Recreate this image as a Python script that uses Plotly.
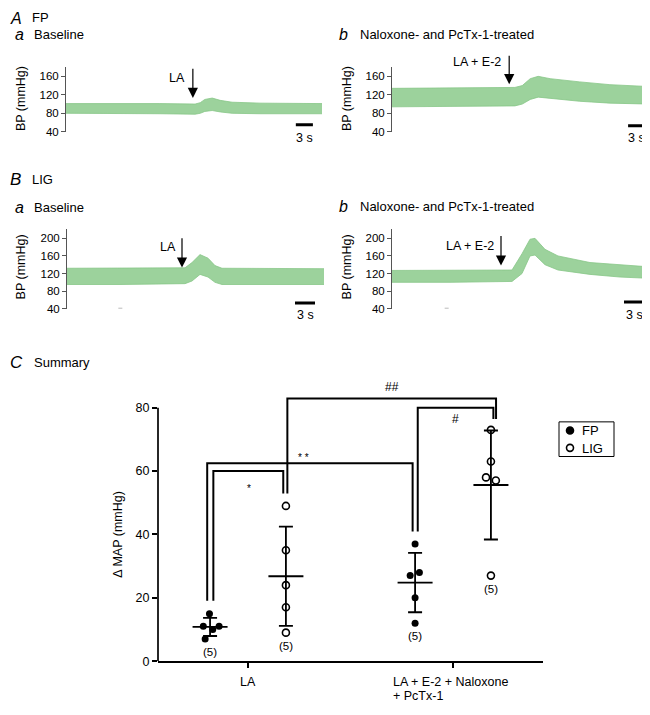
import numpy as np
import plotly.graph_objects as go

# The page body has an 8px margin, so the figure is sized to fill the rest of the window
OFFSET = 8
W, H = 650 - OFFSET, 715 - OFFSET
FONT = "Liberation Sans, Arial, Helvetica, sans-serif"
GREEN_FILL = "rgb(156,210,156)"
GREEN_LINE = "rgb(136,198,136)"

# ---------------- Panels A/B : BP traces (time in s, envelope in mmHg) ----------------
fp_baseline_t = [0, 11.2, 16.5, 22.7, 23.6, 24.4, 25.7, 27.1, 29.2, 34.1, 45.0]
fp_baseline_lo = [80, 80, 79, 78, 80, 84, 86, 83, 80, 79, 79]
fp_baseline_hi = [101, 102, 101, 100, 103, 110, 113, 108, 104, 102, 101]

fp_treated_t = [0, 10.2, 21.6, 22.9, 24.3, 25.7, 27.8, 33.0, 38.3, 45.0]
fp_treated_lo = [94, 95, 96, 100, 110, 115, 112, 106, 102, 100]
fp_treated_hi = [134, 135, 136, 140, 155, 160, 155, 148, 142, 138]

lig_baseline_t = [0, 7.95, 17.7, 18.75, 19.95, 21.15, 22.2, 23.25, 38.55]
lig_baseline_lo = [95, 95, 97, 103, 118, 112, 100, 95, 95]
lig_baseline_hi = [132, 133, 133, 145, 163, 155, 138, 132, 131]

lig_treated_t = [0, 8.7, 18.0, 19.5, 20.7, 21.45, 22.95, 24.9, 29.7, 34.2, 38.7]
lig_treated_lo = [100, 100, 102, 120, 160, 162, 140, 128, 118, 112, 109]
lig_treated_hi = [127, 127, 128, 165, 198, 200, 175, 160, 145, 140, 135]

bp_ticks_A = [40, 80, 120, 160]
bp_ticks_B = [40, 80, 120, 160, 200]

# ---------------- Panel C : summary ----------------
categories = ["LA", "LA + E-2 + Naloxone", "+ PcTx-1"]
fp_la = [15, 11, 10, 11, 7]
lig_la = [49, 35, 24, 17, 9]
fp_la_e2 = [37, 27, 28, 20, 12]
lig_la_e2 = [73, 63, 58, 57, 27]
map_ticks = [0, 20, 40, 60, 80]
n_labels = ["(5)", "(5)", "(5)", "(5)"]
sig_labels = ["*", "* *", "#", "##"]
series_names = ["FP", "LIG"]


def PX(x):
    return (x - OFFSET) / W


def PY(y):
    return 1 - (y - OFFSET) / H


fig = go.Figure()
annotations = []
shapes = []


def data_to_paper(xdom, ydom, xr, yr, x, y):
    px_ = xdom[0] + (x - xr[0]) / (xr[1] - xr[0]) * (xdom[1] - xdom[0])
    py_ = ydom[0] + (y - yr[0]) / (yr[1] - yr[0]) * (ydom[1] - ydom[0])
    return px_, py_


panels = [
    dict(t=fp_baseline_t, lo=fp_baseline_lo, hi=fp_baseline_hi, xpx=(66, 322), ypx=(133, 67.7),
         xr=[0, 45], yr=[40, 180], ticks=bp_ticks_A,
         arrow=(22.3, 113, 179), label="LA", label_pos=(21.3, 156),
         bar=(40.4, 43.4, 55), bar_text=(41.9, 27), dash=None),
    dict(t=fp_treated_t, lo=fp_treated_lo, hi=fp_treated_hi, xpx=(392, 648), ypx=(133, 67.7),
         xr=[0, 45], yr=[40, 180], ticks=bp_ticks_A,
         arrow=(20.6, 143, 207), label="LA + E-2", label_pos=(19.5, 190),
         bar=(41.5, 44.5, 53), bar_text=(43.0, 27), dash=None),
    dict(t=lig_baseline_t, lo=lig_baseline_lo, hi=lig_baseline_hi, xpx=(67, 325), ypx=(311.7, 230.9),
         xr=[0, 38.7], yr=[40, 222], ticks=bp_ticks_B,
         arrow=(17.25, 133.5, 203), label="LA", label_pos=(16.65, 181),
         bar=(34.2, 37.2, 53), bar_text=(35.7, 26), dash=(7.7, 8.3, 41)),
    dict(t=lig_treated_t, lo=lig_treated_lo, hi=lig_treated_hi, xpx=(392, 650), ypx=(311.7, 230.9),
         xr=[0, 38.7], yr=[40, 222], ticks=bp_ticks_B,
         arrow=(16.35, 138, 208), label="LA + E-2", label_pos=(15.6, 183),
         bar=(34.8, 38.1, 55), bar_text=(36.4, 26), dash=(7.9, 8.5, 41)),
]

layout_axes = {}
for i, p in enumerate(panels, start=1):
    xa = "x" if i == 1 else f"x{i}"
    ya = "y" if i == 1 else f"y{i}"
    xname = "xaxis" if i == 1 else f"xaxis{i}"
    yname = "yaxis" if i == 1 else f"yaxis{i}"
    xdom = [PX(p["xpx"][0]), min(1.0, PX(p["xpx"][1]))]
    ydom = [PY(p["ypx"][0]), PY(p["ypx"][1])]
    layout_axes[xname] = dict(domain=xdom, range=p["xr"], visible=False, anchor=ya)
    layout_axes[yname] = dict(domain=ydom, range=p["yr"],
                              anchor=xa, showline=True, linecolor="#555", linewidth=1,
                              ticks="outside", ticklen=4, tickwidth=1, tickcolor="#555",
                              tickvals=p["ticks"], showgrid=False, zeroline=False,
                              tickfont=dict(size=11.5, color="black"))
    fig.add_trace(go.Scatter(x=p["t"], y=p["lo"], mode="lines", xaxis=xa, yaxis=ya,
                             line=dict(color=GREEN_LINE, width=0.8), showlegend=False,
                             hoverinfo="skip"))
    fig.add_trace(go.Scatter(x=p["t"], y=p["hi"], mode="lines", xaxis=xa, yaxis=ya,
                             fill="tonexty", fillcolor=GREEN_FILL,
                             line=dict(color=GREEN_LINE, width=0.8), showlegend=False,
                             hoverinfo="skip"))

    def tp(x, y, p=p, xdom=xdom, ydom=ydom):
        return data_to_paper(xdom, ydom, p["xr"], p["yr"], x, y)

    ax_t, y_head, y_tail = p["arrow"]
    hx, hy = tp(ax_t, y_head)
    tx, ty = tp(ax_t, y_tail)
    annotations.append(dict(x=hx, y=hy, ax=0, ay=-(ty - hy) * H, xref="paper", yref="paper",
                            text="", showarrow=True, arrowhead=2,
                            arrowsize=1.7, arrowwidth=1.2, arrowcolor="black"))
    lx, ly = tp(*p["label_pos"])
    annotations.append(dict(x=lx, y=ly, xref="paper", yref="paper",
                            text=p["label"], showarrow=False, xanchor="right", yanchor="middle",
                            font=dict(size=12.5)))
    b0, b1, by = p["bar"]
    shapes.append(dict(type="line", xref=xa, yref=ya, x0=b0, x1=b1, y0=by, y1=by,
                       line=dict(color="black", width=3)))
    sx, sy = tp(*p["bar_text"])
    annotations.append(dict(x=sx, y=sy, xref="paper", yref="paper",
                            text="3 s", showarrow=False, xanchor="center", yanchor="middle",
                            font=dict(size=12.5)))
    if p["dash"]:
        d0, d1, dy = p["dash"]
        shapes.append(dict(type="line", xref=xa, yref=ya, x0=d0, x1=d1, y0=dy, y1=dy,
                           line=dict(color="#aaa", width=1)))

# y-axis titles for trace panels
for (xp, yp) in [(21, 100), (347, 100), (21, 270), (347, 270)]:
    annotations.append(dict(x=PX(xp), y=PY(yp), xref="paper", yref="paper", text="BP (mmHg)",
                            textangle=-90, showarrow=False, xanchor="center", yanchor="middle",
                            font=dict(size=12.5)))

# top headings (kept inside the figure's top edge)
for txt, xp, fs in [("<i>A</i>", 4, 16), ("FP", 30, 13)]:
    annotations.append(dict(x=max(0, PX(xp)), y=1, xref="paper", yref="paper", text=txt,
                            showarrow=False, xanchor="left", yanchor="top",
                            font=dict(size=fs)))

# other panel headings
heads = [
    ("<i>a</i>", 13, 35, 16), ("Baseline", 32, 35, 13),
    ("<i>b</i>", 337, 35, 16), ("Naloxone- and PcTx-1-treated", 358, 35, 13),
    ("<i>B</i>", 4, 181, 17), ("LIG", 30, 181, 13),
    ("<i>a</i>", 13, 209, 16), ("Baseline", 32, 209, 13),
    ("<i>b</i>", 337, 208, 16), ("Naloxone- and PcTx-1-treated", 358, 208, 13),
    ("<i>C</i>", 4, 366, 17), ("Summary", 32, 366, 13),
]
for txt, xp, yp, fs in heads:
    annotations.append(dict(x=max(0, PX(xp)), y=PY(yp), xref="paper", yref="paper", text=txt,
                            showarrow=False, xanchor="left", yanchor="middle",
                            font=dict(size=fs)))

# ---------------- summary panel ----------------
C_XDOM = [PX(158), PX(543)]
C_YDOM = [PY(667.7), PY(398.9)]
C_XR = [0.561, 2.439]
C_YR = [0, 84]

off = 0.185
cat_x = [1, 2]
groups = [
    (fp_la, cat_x[0] - off, [-0.003, -0.033, 0.013, 0.044, -0.024], "FP"),
    (lig_la, cat_x[0] + off, [0, 0, 0, 0, 0], "LIG"),
    (fp_la_e2, cat_x[1] - off, [0, -0.024, 0.021, 0, 0], "FP"),
    (lig_la_e2, cat_x[1] + off, [0, 0, -0.024, 0.024, 0], "LIG"),
]

mx, my, msd = [], [], []
for vals, cx, jit, _ in groups:
    mx.append(cx)
    my.append(float(np.mean(vals)))
    msd.append(float(np.std(vals, ddof=1)))

fig.add_trace(go.Scatter(x=mx, y=my, mode="markers", xaxis="x5", yaxis="y5",
                         marker=dict(symbol="line-ew", size=25, line=dict(color="black", width=1.8)),
                         error_y=dict(type="data", array=msd, visible=True, color="black",
                                      thickness=1.8, width=7),
                         showlegend=False, cliponaxis=False, hoverinfo="skip"))

FP_MARK = dict(symbol="circle", size=7, color="black")
LIG_MARK = dict(symbol="circle-open", size=7, color="black", line=dict(width=1.6, color="black"))

for series in series_names:
    xs, ys = [], []
    for vals, cx, jit, s in groups:
        if s == series:
            xs += [cx + j for j in jit]
            ys += list(vals)
    fig.add_trace(go.Scatter(x=xs, y=ys, mode="markers", xaxis="x5", yaxis="y5",
                             marker=FP_MARK if series == "FP" else LIG_MARK,
                             name=series, showlegend=False, cliponaxis=False))

# n labels
for (vals, cx, jit, s), lab in zip(groups, n_labels):
    annotations.append(dict(x=cx, y=min(vals), xref="x5", yref="y5", text=lab, showarrow=False,
                            xanchor="center", yanchor="middle", yshift=-13,
                            font=dict(size=11.5)))

# significance brackets: (x_left, x_right, y_top, y_left_end, y_right_end)
brackets = [
    (0.831, 1.172, 60.0, 19.1, 52.9),
    (0.801, 1.803, 62.5, 19.1, 40.9),
    (1.828, 2.197, 80.0, 40.9, 76.4),
    (1.192, 2.210, 82.9, 52.9, 76.4),
]
for x0, x1, yt, yl, yr in brackets:
    shapes.append(dict(type="path", xref="x5", yref="y5",
                       path=f"M {x0},{yl} L {x0},{yt} L {x1},{yt} L {x1},{yr}",
                       line=dict(color="black", width=2)))
sig_pos = [(1.005, 54.5, 10), (1.273, 64.2, 10), (2.010, 76.4, 12), (1.701, 86.5, 12)]
for lab, (sx, sy, fs) in zip(sig_labels, sig_pos):
    px_, py_ = data_to_paper(C_XDOM, C_YDOM, C_XR, C_YR, sx, sy)
    annotations.append(dict(x=px_, y=py_, xref="paper", yref="paper", text=lab, showarrow=False,
                            xanchor="center", yanchor="middle", font=dict(size=fs, color="black")))

# y-axis line of summary (0..80 only)
shapes.append(dict(type="line", xref="x5 domain", yref="y5", x0=0, x1=0, y0=0, y1=80,
                   line=dict(color="black", width=1.7)))

# category labels
annotations.append(dict(x=cat_x[0], y=PY(689), xref="x5", yref="paper", text=categories[0],
                        showarrow=False, xanchor="center", yanchor="middle", font=dict(size=12.5)))
annotations.append(dict(x=PX(391), y=PY(689), xref="paper", yref="paper", text=categories[1],
                        showarrow=False, xanchor="left", yanchor="middle", font=dict(size=12.5)))
annotations.append(dict(x=PX(391), y=PY(703), xref="paper", yref="paper", text=categories[2],
                        showarrow=False, xanchor="left", yanchor="middle", font=dict(size=12.5)))

annotations.append(dict(x=PX(118), y=PY(540), xref="paper", yref="paper", text="Δ MAP (mmHg)",
                        textangle=-90, showarrow=False, xanchor="center", yanchor="middle",
                        font=dict(size=12.5)))

# legend box (manual) on its own small axis
shapes.append(dict(type="rect", xref="paper", yref="paper", x0=PX(559), x1=PX(614),
                   y0=PY(461), y1=PY(426), line=dict(color="black", width=1)))
fig.add_trace(go.Scatter(x=[0.2, 0.2], y=[0.75, 0.25], mode="markers", xaxis="x6", yaxis="y6",
                         marker=dict(symbol=["circle", "circle-open"], size=7, color="black",
                                     line=dict(width=1.6, color="black")),
                         showlegend=False, cliponaxis=False, hoverinfo="skip"))
for nm, yp in zip(series_names, [435, 452.5]):
    annotations.append(dict(x=PX(580), y=PY(yp), xref="paper", yref="paper", text=nm,
                            showarrow=False, xanchor="left", yanchor="middle", font=dict(size=13)))

layout_axes["xaxis5"] = dict(domain=C_XDOM, range=C_XR, anchor="y5",
                             showline=True, linecolor="black", linewidth=1.7, ticks="outside",
                             ticklen=5, tickwidth=1.5, tickcolor="black", tickvals=cat_x,
                             showticklabels=False, showgrid=False, zeroline=False)
layout_axes["yaxis5"] = dict(domain=C_YDOM, range=C_YR, anchor="x5",
                             showline=False, ticks="outside", ticklen=5, tickwidth=1.5,
                             tickcolor="black", tickvals=map_ticks, showgrid=False, zeroline=False,
                             tickfont=dict(size=12.5, color="black"))
layout_axes["xaxis6"] = dict(domain=[PX(559), PX(614)], range=[0, 1], visible=False, anchor="y6")
layout_axes["yaxis6"] = dict(domain=[PY(461), PY(426)], range=[0, 1], visible=False, anchor="x6")

fig.update_layout(width=W, height=H, margin=dict(l=0, r=0, t=0, b=0),
                  paper_bgcolor="white", plot_bgcolor="rgba(0,0,0,0)",
                  font=dict(family=FONT, size=12.5, color="black"),
                  showlegend=False, annotations=annotations, shapes=shapes, **layout_axes)

fig.write_html("out.html")
